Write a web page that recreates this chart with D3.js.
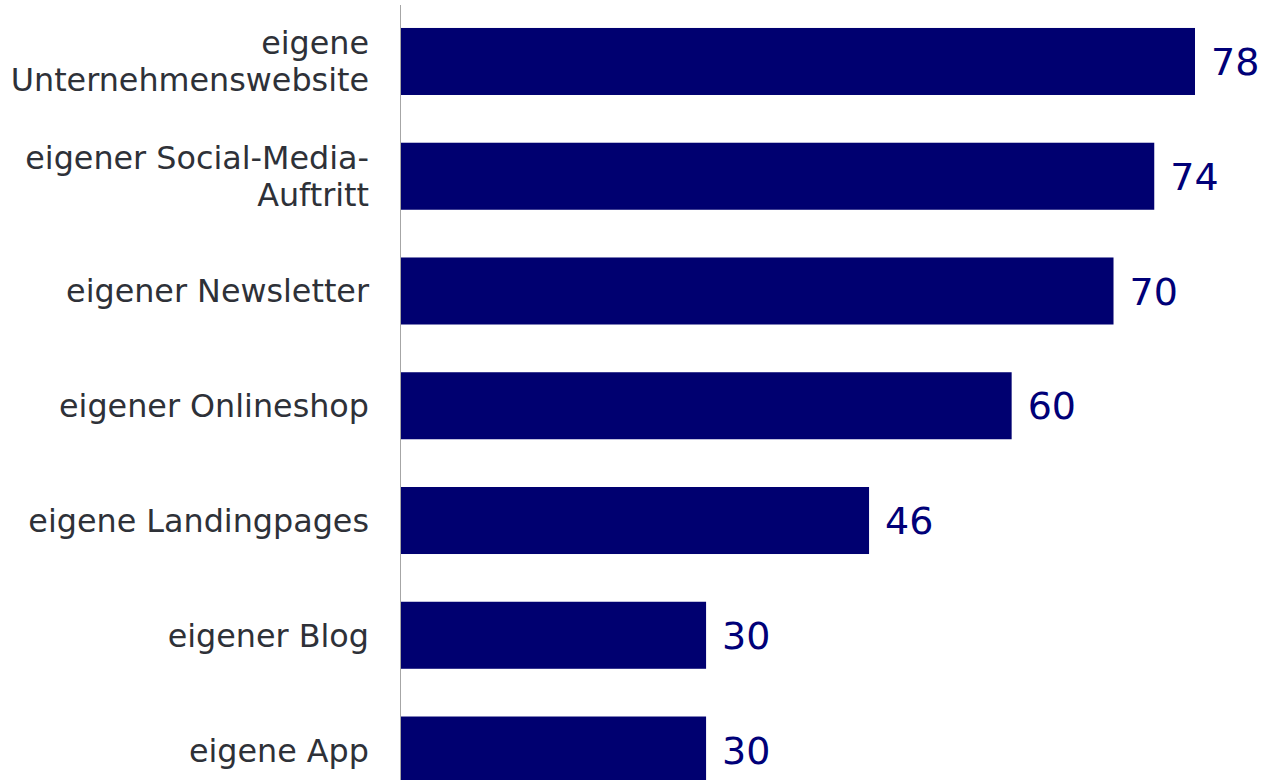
<!DOCTYPE html>
<html>
<head>
<meta charset="utf-8">
<script src="https://cdn.jsdelivr.net/npm/d3@7"></script>
<style>
  html, body { margin: 0; padding: 0; background: #fff; }
  svg { display: block; }
</style>
</head>
<body>
<svg id="chart" width="1264" height="780"></svg>
<script>
// Nutzung eigener Kanäle, Anteil in Prozent
const categories = [
  ["eigene", "Unternehmenswebsite"],
  ["eigener Social-Media-", "Auftritt"],
  ["eigener Newsletter"],
  ["eigener Onlineshop"],
  ["eigene Landingpages"],
  ["eigener Blog"],
  ["eigene App"]
];
const values = [78, 74, 70, 60, 46, 30, 30];

const W = 1264, H = 780;
const axisX = 400.5;
const svg = d3.select("#chart");

const keys = categories.map((c, i) => i);

const y = d3.scaleBand()
  .domain(keys)
  .range([4.1, 807.4])
  .paddingInner(0.416)
  .paddingOuter(0.208);

const x = d3.scaleLinear()
  .domain([0, 78])
  .range([axisX, 1195]);

// bars
svg.append("g")
  .selectAll("rect")
  .data(values)
  .join("rect")
  .attr("x", axisX)
  .attr("y", (d, i) => y(i))
  .attr("width", d => x(d) - axisX)
  .attr("height", y.bandwidth())
  .attr("fill", "#000070");

// value labels
svg.append("g")
  .selectAll("text")
  .data(values)
  .join("text")
  .attr("x", d => x(d) + 16)
  .attr("y", (d, i) => y(i) + y.bandwidth() / 2)
  .attr("dy", "0.36em")
  .attr("font-family", "DejaVu Sans, Verdana, sans-serif")
  .attr("font-size", 38)
  .attr("fill", "#000078")
  .text(d => d);

// category labels
const lineH = 37;
const labels = svg.append("g")
  .selectAll("text")
  .data(categories)
  .join("text")
  .attr("text-anchor", "end")
  .attr("font-family", "DejaVu Sans, Verdana, sans-serif")
  .attr("font-size", 31.8)
  .attr("fill", "#2e3138");

labels.each(function(lines, i) {
  const cy = y(i) + y.bandwidth() / 2 + 11.5;
  const start = cy - (lines.length - 1) * lineH / 2;
  d3.select(this).selectAll("tspan")
    .data(lines)
    .join("tspan")
    .attr("x", 369)
    .attr("y", (d, j) => start + j * lineH)
    .text(d => d);
});

// category axis line
svg.append("line")
  .attr("x1", axisX).attr("x2", axisX)
  .attr("y1", 5).attr("y2", H)
  .attr("stroke", "#a6a6a6")
  .attr("stroke-width", 1);
</script>
</body>
</html>
